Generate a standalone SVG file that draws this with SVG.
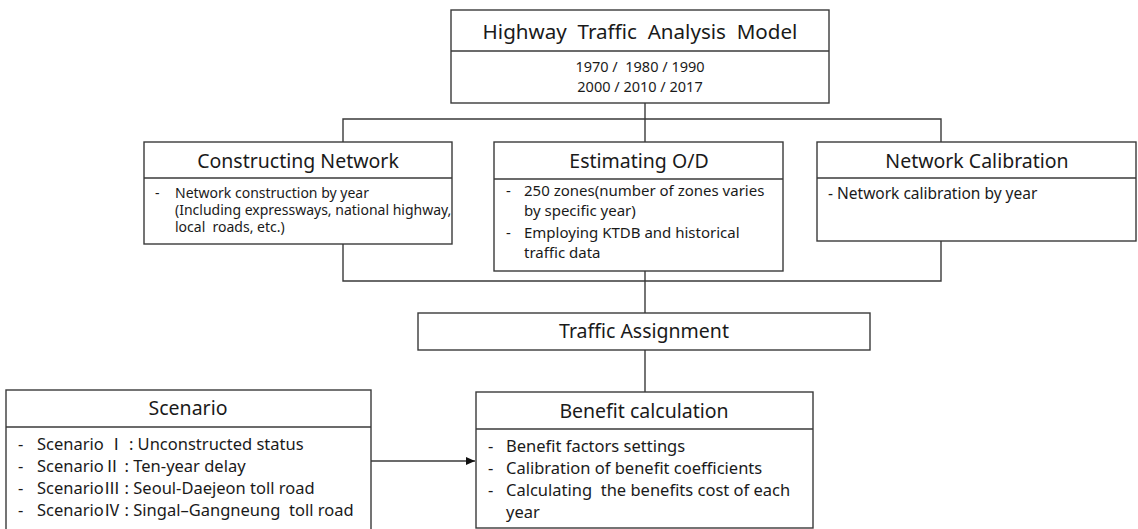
<svg xmlns="http://www.w3.org/2000/svg" width="1138" height="529" viewBox="0 0 1138 529">
<style>
.box{fill:#fff;stroke:#3a3a3a;stroke-width:1.4}
.div{stroke:#3a3a3a;stroke-width:1.4;fill:none}
.con{stroke:#3a3a3a;stroke-width:1.4;fill:none}
text{font-family:"Noto Sans","Noto Sans CJK KR",sans-serif;fill:#1a1a1a;white-space:pre}
.cjk{font-family:"Noto Sans CJK KR",sans-serif}
.h{font-size:19.5px;text-anchor:middle}
.t{font-size:20.6px;text-anchor:middle}
.y{font-size:14.5px;text-anchor:middle}
.b{font-size:14px}
.b2{font-size:15px}
.b3{font-size:15.5px}
.b4{font-size:16.5px}
</style>
<defs>
<marker id="arr" markerWidth="10" markerHeight="10" refX="9" refY="5" orient="auto" markerUnits="userSpaceOnUse">
<path d="M0,1 L9,5 L0,9 Z" fill="#111"/>
</marker>
</defs>
<g id="connectors">
<path class="con" d="M645,103 V142"/>
<path class="con" d="M343,142 V119 H941 V142"/>
<path class="con" d="M343,244 V281 H941 V241"/>
<path class="con" d="M645,235 V313"/>
<path class="con" d="M645,350 V392"/>
<path class="con" d="M371,461 H475" marker-end="url(#arr)"/>
</g>
<g id="model">
<rect class="box" x="451" y="10" width="378" height="93"/>
<line class="div" x1="451" y1="51" x2="829" y2="51"/>
<text class="t" x="640" y="39">Highway  Traffic  Analysis  Model</text>
<text class="y" x="640" y="72">1970 /  1980 / 1990</text>
<text class="y" x="640" y="92">2000 / 2010 / 2017</text>
</g>
<g id="network">
<rect class="box" x="144" y="142" width="308" height="102"/>
<line class="div" x1="144" y1="178" x2="452" y2="178"/>
<text class="h" x="298" y="168">Constructing Network</text>
<text class="b" x="155" y="198">-</text>
<text class="b" x="175" y="198">Network construction by year</text>
<text class="b" x="175" y="215">(Including expressways, national highway,</text>
<text class="b" x="175" y="232">local  roads, etc.)</text>
</g>
<g id="od">
<rect class="box" x="494" y="142" width="289" height="129"/>
<line class="div" x1="494" y1="179" x2="783" y2="179"/>
<text class="h" x="639" y="168">Estimating O/D</text>
<text class="b2" x="506" y="196">-</text>
<text class="b2" x="524" y="196">250 zones(number of zones varies</text>
<text class="b2" x="524" y="216">by specific year)</text>
<text class="b2" x="506" y="238">-</text>
<text class="b2" x="524" y="238">Employing KTDB and historical</text>
<text class="b2" x="524" y="258">traffic data</text>
</g>
<g id="calibration">
<rect class="box" x="817" y="142" width="319" height="99"/>
<line class="div" x1="817" y1="178" x2="1136" y2="178"/>
<text class="h" x="977" y="168">Network Calibration</text>
<text class="b3" x="828" y="199">- Network calibration by year</text>
</g>
<g id="assignment">
<rect class="box" x="418" y="313" width="452" height="37"/>
<text class="h" x="644" y="338">Traffic Assignment</text>
</g>
<g id="scenario">
<rect class="box" x="6" y="390" width="365" height="150"/>
<line class="div" x1="6" y1="427" x2="371" y2="427"/>
<text class="h" x="188" y="415">Scenario</text>
<text class="b4" x="18" y="450">-</text>
<text class="b4" x="37" y="450">Scenario <tspan class="cjk">Ⅰ</tspan> : Unconstructed status</text>
<text class="b4" x="18" y="472">-</text>
<text class="b4" x="37" y="472">Scenario<tspan class="cjk">Ⅱ</tspan> : Ten-year delay</text>
<text class="b4" x="18" y="494">-</text>
<text class="b4" x="37" y="494">Scenario<tspan class="cjk">Ⅲ</tspan> : Seoul-Daejeon toll road</text>
<text class="b4" x="18" y="516">-</text>
<text class="b4" x="37" y="516">Scenario<tspan class="cjk">Ⅳ</tspan> : Singal–Gangneung  toll road</text>
</g>
<g id="benefit">
<rect class="box" x="476" y="392" width="337" height="136"/>
<line class="div" x1="476" y1="429" x2="813" y2="429"/>
<text class="h" x="644" y="418">Benefit calculation</text>
<text class="b4" x="488" y="452">-</text>
<text class="b4" x="506" y="452">Benefit factors settings</text>
<text class="b4" x="488" y="474">-</text>
<text class="b4" x="506" y="474">Calibration of benefit coefficients</text>
<text class="b4" x="488" y="496">-</text>
<text class="b4" x="506" y="496">Calculating  the benefits cost of each</text>
<text class="b4" x="506" y="518">year</text>
</g>
</svg>
